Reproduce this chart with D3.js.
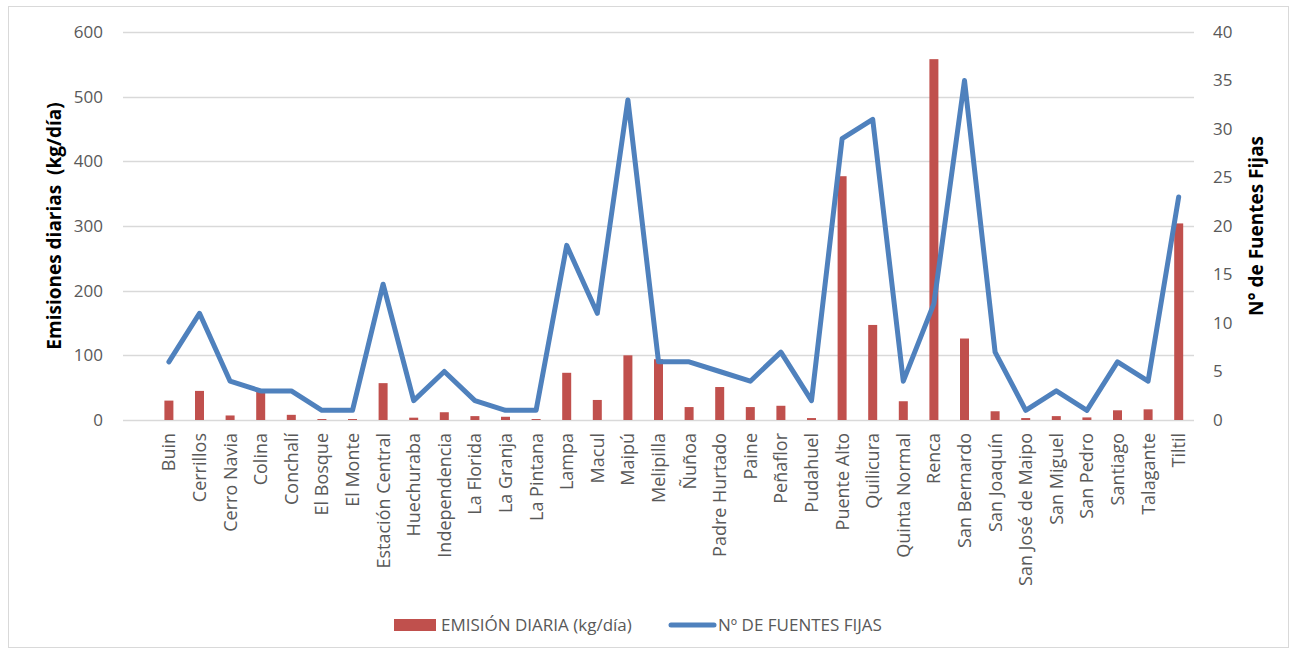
<!DOCTYPE html>
<html>
<head>
<meta charset="utf-8">
<script src="https://cdn.jsdelivr.net/npm/d3@7"></script>
<style>
  body { margin: 0; background: #fff; }
  svg { font-family: "Open Sans", sans-serif; }
</style>
</head>
<body>
<div id="viz"></div>
<script>
// comunas, emisión diaria (kg/día) y nº de fuentes fijas
const comunas = ["Buin", "Cerrillos", "Cerro Navia", "Colina", "Conchalí", "El Bosque", "El Monte",
  "Estación Central", "Huechuraba", "Independencia", "La Florida", "La Granja", "La Pintana", "Lampa",
  "Macul", "Maipú", "Melipilla", "Ñuñoa", "Padre Hurtado", "Paine", "Peñaflor", "Pudahuel",
  "Puente Alto", "Quilicura", "Quinta Normal", "Renca", "San Bernardo", "San Joaquín",
  "San José de Maipo", "San Miguel", "San Pedro", "Santiago", "Talagante", "Tiltil"];
const emision = [30, 45, 7, 44, 8, 1.5, 1.5, 57, 3.6, 12, 6, 5, 1.5, 73, 31, 100, 94, 20, 51, 20, 22, 3,
  377, 147, 29, 558, 126, 13.5, 3, 6, 4, 15, 16.5, 304];
const fuentes = [6, 11, 4, 3, 3, 1, 1, 14, 2, 5, 2, 1, 1, 18, 11, 33, 6, 6, 5, 4, 7, 2,
  29, 31, 4, 12, 35, 7, 1, 3, 1, 6, 4, 23];
const leftTicks = [0, 100, 200, 300, 400, 500, 600];
const rightTicks = [0, 5, 10, 15, 20, 25, 30, 35, 40];

const W = 1296, H = 654;
const plot = { left: 123, right: 1194, top: 32, bottom: 420 };
const step = (plot.right - plot.left) / (comunas.length + 1);

const svg = d3.select("#viz").append("svg").attr("width", W).attr("height", H);

svg.append("rect")
  .attr("x", 8.5).attr("y", 6.5).attr("width", W - 16).attr("height", H - 13)
  .attr("fill", "#fff").attr("stroke", "#D9D9D9");

const x = d3.scaleBand().domain(comunas)
  .range([plot.left + step, plot.right]).paddingInner(0).paddingOuter(0);
const yL = d3.scaleLinear().domain([0, 600]).range([plot.bottom, plot.top]);
const yR = d3.scaleLinear().domain([0, 40]).range([plot.bottom, plot.top]);

// gridlines
svg.append("g").selectAll("line").data(leftTicks).join("line")
  .attr("x1", plot.left).attr("x2", plot.right)
  .attr("y1", d => Math.round(yL(d)) + 0.5).attr("y2", d => Math.round(yL(d)) + 0.5)
  .attr("stroke", "#D9D9D9").attr("stroke-width", 1.3);

// left axis
const axL = svg.append("g").attr("transform", `translate(${plot.left},0)`)
  .call(d3.axisLeft(yL).tickValues(leftTicks).tickSize(0).tickPadding(20))
  .attr("font-family", null).attr("font-size", null);
axL.select(".domain").remove();
axL.selectAll("text").attr("font-size", 17).attr("fill", "#595959");

// right axis
const axR = svg.append("g").attr("transform", `translate(${plot.right},0)`)
  .call(d3.axisRight(yR).tickValues(rightTicks).tickSize(0).tickPadding(19))
  .attr("font-family", null).attr("font-size", null);
axR.select(".domain").remove();
axR.selectAll("text").attr("font-size", 17).attr("fill", "#595959");

// category labels
svg.append("g").selectAll("text").data(comunas).join("text")
  .attr("transform", d => `translate(${x(d) + x.bandwidth() / 2 + 6.5},${plot.bottom + 13}) rotate(-90)`)
  .attr("text-anchor", "end")
  .attr("font-size", 18).attr("fill", "#595959")
  .text(d => d);

// bars
const barW = 9;
svg.append("g").selectAll("rect").data(comunas).join("rect")
  .attr("x", d => x(d) + x.bandwidth() / 2 - barW / 2)
  .attr("width", barW)
  .attr("y", (d, i) => yL(emision[i]))
  .attr("height", (d, i) => plot.bottom - yL(emision[i]))
  .attr("fill", "#C0504D");

// line
const line = d3.line()
  .x(d => x(d) + x.bandwidth() / 2)
  .y((d, i) => yR(fuentes[i]));
svg.append("path").datum(comunas)
  .attr("d", line)
  .attr("fill", "none").attr("stroke", "#4F81BD")
  .attr("stroke-width", 5).attr("stroke-linejoin", "round").attr("stroke-linecap", "round");

// axis titles
svg.append("text")
  .attr("transform", `translate(61,${(plot.top + plot.bottom) / 2}) rotate(-90)`)
  .attr("text-anchor", "middle").attr("font-size", 19).attr("font-weight", "bold")
  .attr("fill", "#000").attr("xml:space", "preserve")
  .text("Emisiones diarias  (kg/día)");
svg.append("text")
  .attr("transform", `translate(1263,${(plot.top + plot.bottom) / 2}) rotate(-90)`)
  .attr("text-anchor", "middle").attr("font-size", 19).attr("font-weight", "bold")
  .attr("fill", "#000")
  .text("N° de Fuentes Fijas");

// legend
const lg = svg.append("g");
lg.append("rect").attr("x", 394).attr("y", 619).attr("width", 42).attr("height", 12).attr("fill", "#C0504D");
lg.append("text").attr("x", 441).attr("y", 631).attr("font-size", 17).attr("fill", "#595959")
  .text("EMISIÓN DIARIA (kg/día)");
lg.append("line").attr("x1", 671).attr("x2", 714).attr("y1", 625).attr("y2", 625)
  .attr("stroke", "#4F81BD").attr("stroke-width", 5).attr("stroke-linecap", "round");
lg.append("text").attr("x", 718).attr("y", 631).attr("font-size", 17).attr("fill", "#595959")
  .text("Nº DE FUENTES FIJAS");
</script>
</body>
</html>
